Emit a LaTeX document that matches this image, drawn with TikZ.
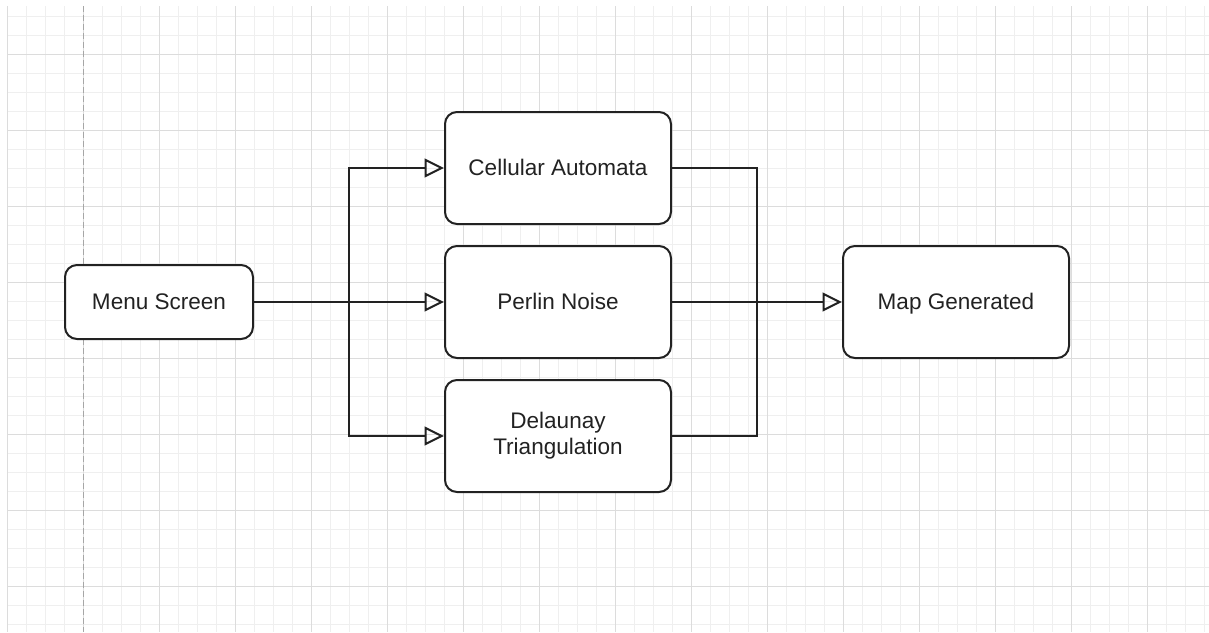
\documentclass[tikz,border=0pt]{standalone}
\usepackage{fontspec}
\setmainfont{Liberation Sans}
\usetikzlibrary{
  	positioning,
  	arrows.meta
  }

\definecolor{gridminor}{HTML}{EFEFEF}
\definecolor{gridmajor}{HTML}{DCDCDC}
\definecolor{pageedge}{HTML}{A6A6A6}
\definecolor{ink}{HTML}{222222}

\tikzset{
  stage/.style={draw=ink, line width=1.5pt, rounded corners=9pt, fill=white, text=ink,
    align=center, font=\fontsize{16.9}{19.5}\selectfont, inner sep=0pt,
    minimum width=169.5pt, minimum height=84pt},
  oneline/.style={text height=15.3pt, text depth=3.6pt},
  link/.style={draw=ink, line width=1.5pt},
  flow/.style={link, -{Triangle[open, length=14.5pt, width=14pt, line width=1.5pt]}},
}

\begin{document}
\begin{tikzpicture}[x=.75pt, y=-.75pt]
	\useasboundingbox (0,0) rectangle (1209,632);
%
	\begin{scope}
		\clip (7,6) rectangle (1209,632);
		\foreach \gx in {7,26,...,1209} \draw[gridminor, line width=.75pt] (\gx,6) -- (\gx,632);
		\foreach \gy in {16,35,...,632} \draw[gridminor, line width=.75pt] (7,\gy) -- (1209,\gy);
		\foreach \gx in {7,83,...,1209} \draw[gridmajor, line width=.75pt] (\gx,6) -- (\gx,632);
		\foreach \gy in {54,130,...,632} \draw[gridmajor, line width=.75pt] (7,\gy) -- (1209,\gy);
		\draw[pageedge, line width=.75pt, dash pattern=on 4.5pt off 2.25pt] (83,6) -- (83,632);
	\end{scope}
%
	\node[stage, oneline] (pn) at (558,302) {Perlin Noise};
	\node[stage, oneline, above=15pt of pn] (ca) {Cellular Automata};
	\node[stage, below=15pt of pn] (dt) {Delaunay\\Triangulation};
	\node[stage, oneline, minimum width=141pt, minimum height=55.5pt, left=142.5pt of pn] (menu) {Menu Screen};
	\node[stage, oneline, right=127.5pt of pn] (map) {Map Generated};
%
	\coordinate (split) at (349,302);
	\coordinate (join) at (757,302);
	\draw[link] (menu.east) -- (split);
	\draw[flow] (split) |- (ca.west);
	\draw[flow] (split) -- (pn.west);
	\draw[flow] (split) |- (dt.west);
	\draw[link] (ca.east) -| (join);
	\draw[link] (dt.east) -| (join);
	\draw[flow] (pn.east) -- (map.west);
\end{tikzpicture}
\end{document}
